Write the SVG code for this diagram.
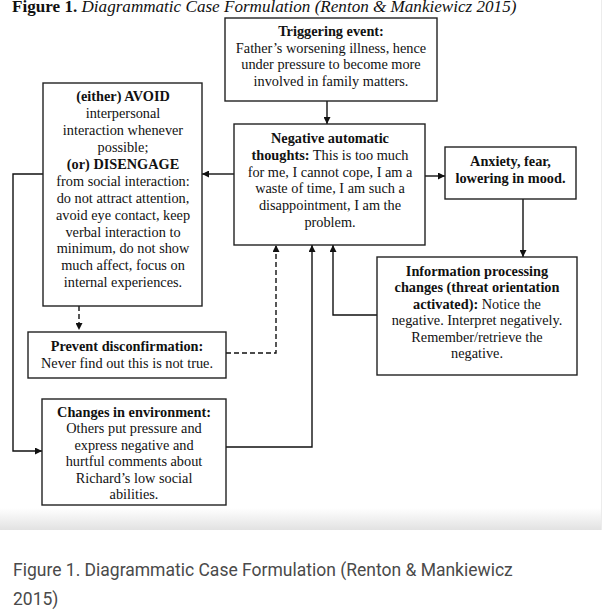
<svg xmlns="http://www.w3.org/2000/svg" width="603" height="612" viewBox="0 0 603 612">
<style>
.box{fill:#fff;stroke:#222;stroke-width:1.4}
.t{font-family:"Liberation Serif","Times New Roman",serif;font-size:14.3px;fill:#111;text-anchor:middle}
.b{font-weight:bold}
.ln{fill:none;stroke:#111;stroke-width:1.4}
.dash{stroke-dasharray:5 3}
.cap{font-family:Roboto,"Noto Sans",sans-serif;font-size:17.5px;fill:#4a4a4a}
</style>
<defs>
<marker id="ah" viewBox="0 0 10 10" refX="10" refY="5" markerWidth="7" markerHeight="7" markerUnits="userSpaceOnUse" orient="auto">
<path d="M0,0 L10,5 L0,10 Z" fill="#111"/>
</marker>
<linearGradient id="sh" x1="0" y1="0" x2="0" y2="1">
<stop offset="0" stop-color="#fff"/>
<stop offset="1" stop-color="#e2e2e2"/>
</linearGradient>
</defs>
<rect x="0" y="0" width="603" height="612" fill="#fff"/>
<rect x="0" y="508" width="602" height="22" fill="url(#sh)"/>
<line x1="601.5" y1="0" x2="601.5" y2="530" stroke="#ececec" stroke-width="1"/>

<text x="12" y="11.5" font-family="Liberation Serif,serif" font-size="17.1px" fill="#111"><tspan font-weight="bold">Figure 1.</tspan><tspan font-style="italic"> Diagrammatic Case Formulation (Renton &amp; Mankiewicz 2015)</tspan></text>

<g id="connectors">
<line class="ln" x1="327" y1="101" x2="327" y2="124" marker-end="url(#ah)"/>
<line class="ln" x1="234" y1="174" x2="202" y2="174" marker-end="url(#ah)"/>
<line class="ln" x1="425" y1="176" x2="445" y2="176" marker-end="url(#ah)"/>
<line class="ln" x1="523" y1="199" x2="523" y2="257" marker-end="url(#ah)"/>
<polyline class="ln" points="43,174 13,174 13,451 42,451" marker-end="url(#ah)"/>
<polyline class="ln" points="226,447 312,447 312,245" marker-end="url(#ah)"/>
<polyline class="ln" points="377,315 333,315 333,245" marker-end="url(#ah)"/>
<line class="ln dash" x1="79" y1="306" x2="79" y2="330" marker-end="url(#ah)"/>
<polyline class="ln dash" points="226,353 276,353 276,245" marker-end="url(#ah)"/>
</g>

<g id="trigger">
<rect class="box" x="225" y="18" width="212" height="83"/>
<text class="t" x="331" y="36"><tspan class="b">Triggering event:</tspan><tspan x="331" dy="16.7">Father’s worsening illness, hence</tspan><tspan x="331" dy="16.7">under pressure to become more</tspan><tspan x="331" dy="16.7">involved in family matters.</tspan></text>
</g>

<g id="avoid">
<rect class="box" x="43" y="83" width="159" height="223"/>
<text class="t" x="123" y="101"><tspan class="b">(either) AVOID</tspan><tspan x="123" dy="16.94">interpersonal</tspan><tspan x="123" dy="16.94">interaction whenever</tspan><tspan x="123" dy="16.94">possible;</tspan><tspan x="123" dy="16.94" class="b">(or) DISENGAGE</tspan><tspan x="123" dy="16.94">from social interaction:</tspan><tspan x="123" dy="16.94">do not attract attention,</tspan><tspan x="123" dy="16.94">avoid eye contact, keep</tspan><tspan x="123" dy="16.94">verbal interaction to</tspan><tspan x="123" dy="16.94">minimum, do not show</tspan><tspan x="123" dy="16.94">much affect, focus on</tspan><tspan x="123" dy="16.94">internal experiences.</tspan></text>
</g>

<g id="nat">
<rect class="box" x="234" y="124" width="191" height="121"/>
<text class="t" x="330" y="143"><tspan class="b">Negative automatic</tspan><tspan x="330" dy="16.8"><tspan class="b">thoughts:</tspan> This is too much</tspan><tspan x="330" dy="16.8">for me, I cannot cope, I am a</tspan><tspan x="330" dy="16.8">waste of time, I am such a</tspan><tspan x="330" dy="16.8">disappointment, I am the</tspan><tspan x="330" dy="16.8">problem.</tspan></text>
</g>

<g id="anxiety">
<rect class="box" x="445" y="147" width="131" height="52"/>
<text class="t b" x="510.5" y="166"><tspan>Anxiety, fear,</tspan><tspan x="510.5" dy="17">lowering in mood.</tspan></text>
</g>

<g id="info">
<rect class="box" x="377" y="257" width="200" height="118"/>
<text class="t" x="477" y="275.7"><tspan class="b">Information processing</tspan><tspan x="477" dy="16.46" class="b">changes (threat orientation</tspan><tspan x="477" dy="16.46"><tspan class="b">activated):</tspan> Notice the</tspan><tspan x="477" dy="16.46">negative. Interpret negatively.</tspan><tspan x="477" dy="16.46">Remember/retrieve the</tspan><tspan x="477" dy="16.46">negative.</tspan></text>
</g>

<g id="prevent">
<rect class="box" x="28" y="332" width="198" height="46"/>
<text class="t" x="127" y="350.7"><tspan class="b">Prevent disconfirmation:</tspan><tspan x="127" dy="17.3">Never find out this is not true.</tspan></text>
</g>

<g id="changes">
<rect class="box" x="42" y="399" width="184" height="106"/>
<text class="t" x="134" y="417"><tspan class="b">Changes in environment:</tspan><tspan x="134" dy="16.4">Others put pressure and</tspan><tspan x="134" dy="16.4">express negative and</tspan><tspan x="134" dy="16.4">hurtful comments about</tspan><tspan x="134" dy="16.4">Richard’s low social</tspan><tspan x="134" dy="16.4">abilities.</tspan></text>
</g>

<text class="cap" x="13" y="576">Figure 1. Diagrammatic Case Formulation (Renton &amp; Mankiewicz</text>
<text class="cap" x="13" y="605">2015)</text>
</svg>
